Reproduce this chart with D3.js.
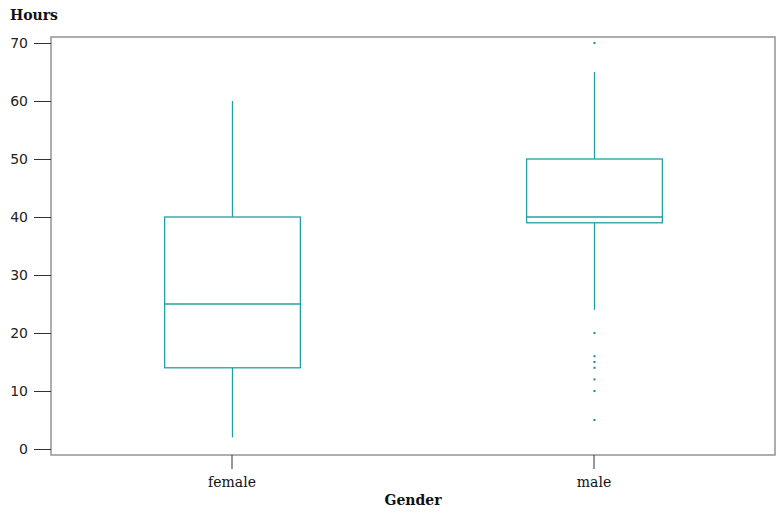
<!DOCTYPE html>
<html><head><meta charset="utf-8">
<script src="https://cdn.jsdelivr.net/npm/d3@7"></script>
<style>body{margin:0;background:#fff}svg{display:block}</style>
</head><body>
<svg id="chart" width="780" height="518"></svg>
<script>
const categories = ["female", "male"];
const whiskerLow = [2, 24];
const q1 = [14, 39];
const median = [25, 40];
const q3 = [40, 50];
const whiskerHigh = [60, 65];
const outliersFemale = [];
const outliersMale = [70, 20, 16, 15, 14, 12, 10, 5];
const outliers = [outliersFemale, outliersMale];
const yTicks = [0, 10, 20, 30, 40, 50, 60, 70];

const svg = d3.select("#chart");
const L = 51, R = 775, T = 37, B = 455;
const color = "#22a0a0";

const x = d3.scaleBand().domain(categories).range([L, R]).paddingInner(0).paddingOuter(0);
const y = d3.scaleLinear().domain([0, 70]).range([449, 43]);

// frame
svg.append("rect").attr("x", L).attr("y", T).attr("width", R - L).attr("height", B - T)
  .attr("fill", "none").attr("stroke", "#9a9a9a").attr("stroke-width", 1.6);

// y axis
const yAxis = d3.axisLeft(y).tickValues(yTicks).tickSize(17).tickPadding(6);
const gy = svg.append("g").attr("transform", `translate(${L},0)`).call(yAxis);
gy.select(".domain").remove();
gy.selectAll("line").attr("stroke", "#333");
gy.selectAll("text").attr("font-family", "DejaVu Sans").attr("font-size", 14).attr("fill", "#222");

// x axis
const xAxis = d3.axisBottom(x).tickSize(14).tickPadding(8);
const gx = svg.append("g").attr("transform", `translate(0,${B})`).call(xAxis);
gx.select(".domain").remove();
gx.selectAll("line").attr("stroke", "#333");
gx.selectAll("text").attr("font-family", "DejaVu Serif").attr("font-size", 14).attr("fill", "#111");

// titles
svg.append("text").attr("x", 10).attr("y", 20).text("Hours")
  .attr("font-family", "DejaVu Serif").attr("font-weight", "bold").attr("font-size", 14).attr("fill", "#111");
svg.append("text").attr("x", (L + R) / 2).attr("y", 505).attr("text-anchor", "middle").text("Gender")
  .attr("font-family", "DejaVu Serif").attr("font-weight", "bold").attr("font-size", 14).attr("fill", "#111");

const bw = x.bandwidth() * 0.375;
categories.forEach((c, i) => {
  const cx = Math.round(x(c) + x.bandwidth() / 2) + 0.5;
  const g = svg.append("g").attr("stroke", color).attr("stroke-width", 1.3).attr("fill", "none");
  g.append("line").attr("x1", cx).attr("x2", cx).attr("y1", y(whiskerHigh[i])).attr("y2", y(q3[i]));
  g.append("line").attr("x1", cx).attr("x2", cx).attr("y1", y(q1[i])).attr("y2", y(whiskerLow[i]));
  g.append("rect").attr("x", cx - bw / 2).attr("width", bw)
    .attr("y", y(q3[i])).attr("height", y(q1[i]) - y(q3[i]));
  g.append("line").attr("x1", cx - bw / 2).attr("x2", cx + bw / 2)
    .attr("y1", y(median[i])).attr("y2", y(median[i]));
  svg.append("g").selectAll("rect").data(outliers[i]).join("rect")
    .attr("x", cx - 1).attr("y", d => y(d) - 1).attr("width", 2).attr("height", 2)
    .attr("fill", "#1a8a8a");
});
</script>
</body></html>
